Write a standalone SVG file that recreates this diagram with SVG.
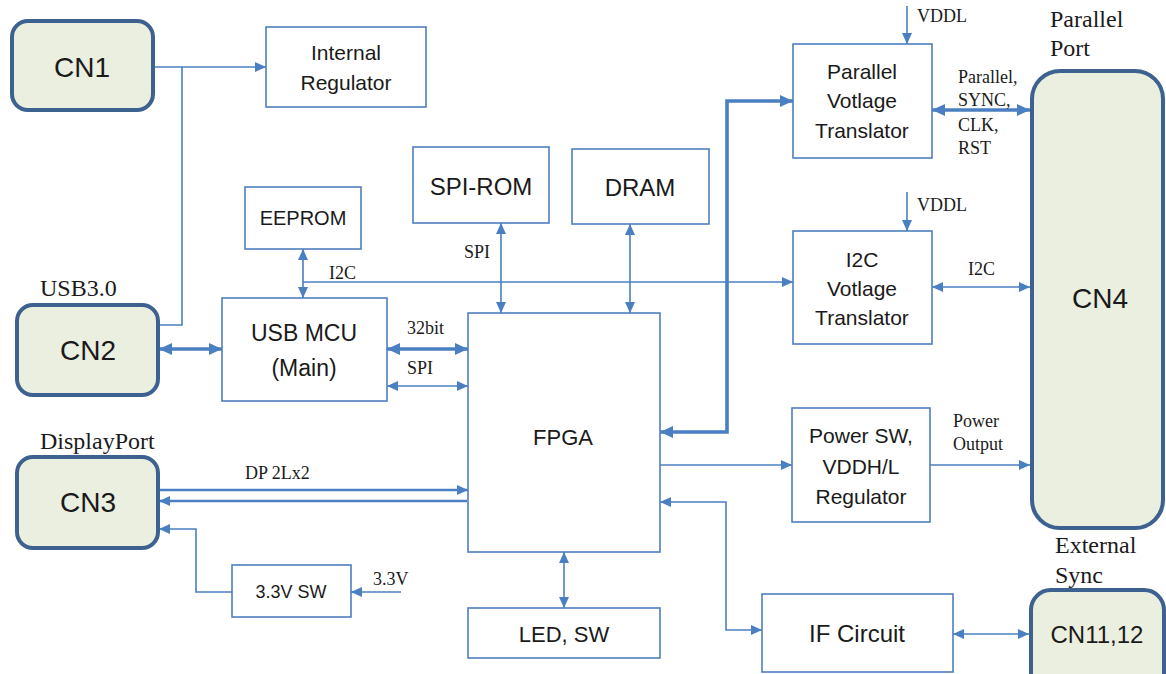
<svg xmlns="http://www.w3.org/2000/svg" width="1166" height="674" viewBox="0 0 1166 674">
<style>
.box{fill:#fff;stroke:#4f7fbf;stroke-width:1.6}
.cn{fill:#ebefdf;stroke:#3d6290;stroke-width:4}
.t{font-family:"Liberation Sans",Arial,sans-serif;fill:#1a1a1a;text-anchor:middle;dominant-baseline:central}
.s{font-family:"Liberation Serif","Times New Roman",serif;fill:#1a1a1a;font-size:18px}
.L{font-family:"Liberation Serif","Times New Roman",serif;fill:#1a1a1a;font-size:24px}
.c{fill:none;stroke:#4a7fc1;stroke-width:1.6}
.k{fill:none;stroke:#4a7fc1;stroke-width:3.6}
.ta{marker-end:url(#a)}
.tb{marker-start:url(#a);marker-end:url(#a)}
.ka{marker-end:url(#b)}
.kb{marker-start:url(#b);marker-end:url(#b)}
</style>
<defs>
<marker id="a" markerUnits="userSpaceOnUse" markerWidth="11" markerHeight="10" refX="11" refY="5" orient="auto-start-reverse" viewBox="0 0 11 10"><path d="M0,0 L11,5 L0,10 z" fill="#4a7fc1"/></marker>
<marker id="b" markerUnits="userSpaceOnUse" markerWidth="13" markerHeight="12" refX="13" refY="6" orient="auto-start-reverse" viewBox="0 0 13 12"><path d="M0,0 L13,6 L0,12 z" fill="#4a7fc1"/></marker>
</defs>
<rect width="1166" height="674" fill="#fff"/>

<g id="connectors">
<path class="c ta" d="M153,67 H266"/>
<path class="c" d="M182,67 V325 H158"/>
<path class="k kb" d="M159,349 H222"/>
<path class="c tb" d="M303,249 V298"/>
<path class="c ta" d="M303,282 H793"/>
<path class="k kb" d="M387,349 H468"/>
<path class="c tb" d="M387,386 H468"/>
<path class="c tb" d="M501,223 V313"/>
<path class="c tb" d="M630,224 V313"/>
<path class="k ta" style="stroke-width:2.6" d="M159,490 H468"/>
<path class="k ta" style="stroke-width:2.6" d="M467,501 H159"/>
<path class="c ta" d="M232,592 H196 V529 H159"/>
<path class="c ta" d="M401,592 H351"/>
<path class="c tb" d="M564,552 V608"/>
<path class="k kb" d="M660,432 H727 V101 H793"/>
<path class="c ta" d="M907,6 V44"/>
<path class="c ta" d="M907,192 V231"/>
<path class="k kb" d="M932,110 H1030"/>
<path class="c tb" d="M932,287 H1030"/>
<path class="c ta" d="M660,465 H792"/>
<path class="c ta" d="M930,465 H1030"/>
<path class="c tb" d="M762,630 H726 V502 H660"/>
<path class="c tb" d="M953,634 H1029"/>
</g>

<g id="CN1"><rect class="cn" x="12" y="21" width="141" height="89" rx="16"/><text class="t" x="82" y="67" font-size="28">CN1</text></g>
<g id="InternalRegulator"><rect class="box" x="266" y="27" width="160" height="80"/><text class="t" x="346" y="52" font-size="21">Internal</text><text class="t" x="346" y="82" font-size="21">Regulator</text></g>
<g id="CN2"><rect class="cn" x="17" y="305" width="141" height="90" rx="16"/><text class="t" x="88" y="350" font-size="28">CN2</text><text class="L" x="40" y="296">USB3.0</text></g>
<g id="EEPROM"><rect class="box" x="245" y="187" width="116" height="62"/><text class="t" x="303" y="218" font-size="20">EEPROM</text></g>
<g id="USBMCU"><rect class="box" x="222" y="298" width="165" height="103"/><text class="t" x="304" y="333" font-size="23">USB MCU</text><text class="t" x="304" y="368" font-size="23">(Main)</text></g>
<g id="SPIROM"><rect class="box" x="413" y="147" width="136" height="76"/><text class="t" x="481" y="186" font-size="24">SPI-ROM</text></g>
<g id="DRAM"><rect class="box" x="572" y="149" width="137" height="75"/><text class="t" x="640" y="187" font-size="24">DRAM</text></g>
<g id="FPGA"><rect class="box" x="468" y="313" width="192" height="239"/><text class="t" x="563" y="437" font-size="22">FPGA</text></g>
<g id="CN3"><rect class="cn" x="17" y="457" width="141" height="91" rx="16"/><text class="t" x="88" y="502" font-size="28">CN3</text><text class="L" x="40" y="449">DisplayPort</text></g>
<g id="SW33"><rect class="box" x="232" y="565" width="119" height="52"/><text class="t" x="291" y="592" font-size="18">3.3V SW</text></g>
<g id="LEDSW"><rect class="box" x="468" y="608" width="192" height="50"/><text class="t" x="564" y="634" font-size="22">LED, SW</text></g>
<g id="ParallelTranslator"><rect class="box" x="793" y="44" width="139" height="114"/><text class="t" x="862" y="71" font-size="21">Parallel</text><text class="t" x="862" y="100" font-size="21">Votlage</text><text class="t" x="862" y="130" font-size="21">Translator</text></g>
<g id="I2CTranslator"><rect class="box" x="793" y="231" width="139" height="113"/><text class="t" x="862" y="259" font-size="21">I2C</text><text class="t" x="862" y="288" font-size="21">Votlage</text><text class="t" x="862" y="317" font-size="21">Translator</text></g>
<g id="PowerSW"><rect class="box" x="792" y="408" width="138" height="114"/><text class="t" x="861" y="435" font-size="21">Power SW,</text><text class="t" x="861" y="466" font-size="21">VDDH/L</text><text class="t" x="861" y="496" font-size="21">Regulator</text></g>
<g id="IFCircuit"><rect class="box" x="762" y="594" width="191" height="78"/><text class="t" x="857" y="633" font-size="24">IF Circuit</text></g>
<g id="CN4"><rect class="cn" x="1032" y="71" width="131" height="457" rx="28"/><text class="t" x="1100" y="298" font-size="28">CN4</text><text class="L" x="1050" y="27">Parallel</text><text class="L" x="1050" y="56">Port</text></g>
<g id="CN1112"><rect class="cn" x="1031" y="590" width="133" height="110" rx="20"/><text class="t" x="1097" y="634" font-size="24">CN11,12</text><text class="L" x="1055" y="553">External</text><text class="L" x="1055" y="583">Sync</text></g>

<g id="labels">
<text class="s" x="329" y="279">I2C</text>
<text class="s" x="407" y="334">32bit</text>
<text class="s" x="407" y="374">SPI</text>
<text class="s" x="464" y="258">SPI</text>
<text class="s" x="245" y="479">DP 2Lx2</text>
<text class="s" x="373" y="585">3.3V</text>
<text class="s" x="917" y="22" font-size="17">VDDL</text>
<text class="s" x="917" y="211" font-size="17">VDDL</text>
<text class="s" x="958" y="83" font-size="17">Parallel,</text>
<text class="s" x="958" y="106" font-size="17">SYNC,</text>
<text class="s" x="958" y="131" font-size="17">CLK,</text>
<text class="s" x="958" y="154" font-size="17">RST</text>
<text class="s" x="968" y="275">I2C</text>
<text class="s" x="953" y="427" font-size="17">Power</text>
<text class="s" x="953" y="450" font-size="17">Output</text>
</g>
</svg>
